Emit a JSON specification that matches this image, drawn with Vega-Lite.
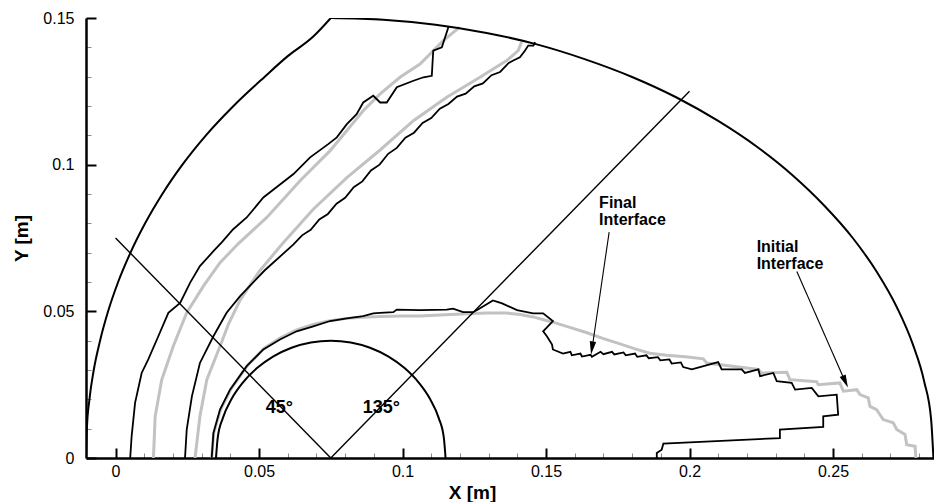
{
  "$schema": "https://vega.github.io/schema/vega-lite/v6.json",
  "width": 848,
  "height": 440,
  "autosize": {"type": "none"},
  "padding": {"left": 86, "top": 18, "right": 0, "bottom": 44},
  "config": {"view": {"stroke": null}, "font": "Liberation Sans"},
  "datasets": {
    "curves": [
      {"s":"O1","x":-0.0103,"y":0},{"s":"O1","x":-0.0100,"y":0.01},{"s":"O1","x":-0.0091,"y":0.02},{"s":"O1","x":-0.0076,"y":0.03},{"s":"O1","x":-0.0054,"y":0.04},{"s":"O1","x":-0.0026,"y":0.05},{"s":"O1","x":0.0009,"y":0.06},{"s":"O1","x":0.0052,"y":0.07},{"s":"O1","x":0.0103,"y":0.08},{"s":"O1","x":0.0163,"y":0.09},{"s":"O1","x":0.0233,"y":0.10},{"s":"O1","x":0.0315,"y":0.11},{"s":"O1","x":0.0411,"y":0.12},{"s":"O1","x":0.0520,"y":0.1300},{"s":"O1","x":0.0600,"y":0.1370},{"s":"O1","x":0.0688,"y":0.1436},{"s":"O1","x":0.0750,"y":0.1500},
      {"s":"O2","x":0.0750,"y":0.1500},{"s":"O2","x":0.0933,"y":0.1494},{"s":"O2","x":0.1115,"y":0.1477},{"s":"O2","x":0.1293,"y":0.1449},{"s":"O2","x":0.1468,"y":0.1410},{"s":"O2","x":0.1637,"y":0.1359},{"s":"O2","x":0.1800,"y":0.1299},{"s":"O2","x":0.1955,"y":0.1229},{"s":"O2","x":0.2100,"y":0.1149},{"s":"O2","x":0.2235,"y":0.1061},{"s":"O2","x":0.2359,"y":0.0964},{"s":"O2","x":0.2470,"y":0.0860},{"s":"O2","x":0.2569,"y":0.0750},{"s":"O2","x":0.2653,"y":0.0634},{"s":"O2","x":0.2723,"y":0.0513},{"s":"O2","x":0.2778,"y":0.0388},{"s":"O2","x":0.2818,"y":0.0260},{"s":"O2","x":0.2842,"y":0.0131},{"s":"O2","x":0.2850,"y":0},
      {"s":"K","x":0.0350,"y":0},{"s":"K","x":0.03561,"y":0.00695},{"s":"K","x":0.03741,"y":0.01368},{"s":"K","x":0.04036,"y":0.02},{"s":"K","x":0.04436,"y":0.02571},{"s":"K","x":0.04929,"y":0.03064},{"s":"K","x":0.055,"y":0.03464},{"s":"K","x":0.06132,"y":0.03759},{"s":"K","x":0.06805,"y":0.03939},{"s":"K","x":0.075,"y":0.04},{"s":"K","x":0.08195,"y":0.03939},{"s":"K","x":0.08868,"y":0.03759},{"s":"K","x":0.095,"y":0.03464},{"s":"K","x":0.10071,"y":0.03064},{"s":"K","x":0.10564,"y":0.02571},{"s":"K","x":0.10964,"y":0.02},{"s":"K","x":0.11259,"y":0.01368},{"s":"K","x":0.11439,"y":0.00695},{"s":"K","x":0.115,"y":0},
      {"s":"B","x":0.0132,"y":0},{"s":"B","x":0.0138,"y":0.0142},{"s":"B","x":0.0161,"y":0.0267},{"s":"B","x":0.0201,"y":0.0381},{"s":"B","x":0.0248,"y":0.0495},{"s":"B","x":0.0306,"y":0.0586},{"s":"B","x":0.0364,"y":0.0666},{"s":"B","x":0.0428,"y":0.0731},{"s":"B","x":0.0527,"y":0.0820},{"s":"B","x":0.0643,"y":0.0945},{"s":"B","x":0.0747,"y":0.1047},{"s":"B","x":0.0863,"y":0.1184},{"s":"B","x":0.0922,"y":0.1241},{"s":"B","x":0.0991,"y":0.1298},{"s":"B","x":0.1061,"y":0.1343},{"s":"B","x":0.1119,"y":0.1400},{"s":"B","x":0.1142,"y":0.1423},{"s":"B","x":0.1177,"y":0.1451},{"s":"B","x":0.1200,"y":0.1469},
      {"s":"D","x":0.0277,"y":0},{"s":"D","x":0.0294,"y":0.0142},{"s":"D","x":0.0318,"y":0.0267},{"s":"D","x":0.0364,"y":0.0381},{"s":"D","x":0.0395,"y":0.0460},{"s":"D","x":0.0435,"y":0.0540},{"s":"D","x":0.0500,"y":0.0635},{"s":"D","x":0.0579,"y":0.0728},{"s":"D","x":0.0689,"y":0.0848},{"s":"D","x":0.0806,"y":0.0956},{"s":"D","x":0.0922,"y":0.1050},{"s":"D","x":0.1038,"y":0.1150},{"s":"D","x":0.1154,"y":0.1230},{"s":"D","x":0.1270,"y":0.1298},{"s":"D","x":0.1363,"y":0.1355},{"s":"D","x":0.1403,"y":0.1389},{"s":"D","x":0.1415,"y":0.1418},
      {"s":"G","x":0.0335,"y":0},{"s":"G","x":0.0342,"y":0.0085},{"s":"G","x":0.0366,"y":0.0165},{"s":"G","x":0.0402,"y":0.0235},{"s":"G","x":0.0460,"y":0.0316},{"s":"G","x":0.0518,"y":0.0374},{"s":"G","x":0.0575,"y":0.0410},{"s":"G","x":0.0631,"y":0.0437},{"s":"G","x":0.0689,"y":0.0455},{"s":"G","x":0.0747,"y":0.0468},{"s":"G","x":0.0806,"y":0.0476},{"s":"G","x":0.0863,"y":0.0480},{"s":"G","x":0.0922,"y":0.0482},{"s":"G","x":0.1000,"y":0.0484},{"s":"G","x":0.1061,"y":0.0484},{"s":"G","x":0.1150,"y":0.0488},{"s":"G","x":0.1225,"y":0.0492},{"s":"G","x":0.1294,"y":0.0494},{"s":"G","x":0.1364,"y":0.0494},{"s":"G","x":0.1410,"y":0.0489},{"s":"G","x":0.1455,"y":0.0481},{"s":"G","x":0.1524,"y":0.0463},{"s":"G","x":0.1580,"y":0.0446},{"s":"G","x":0.1643,"y":0.0427},{"s":"G","x":0.1700,"y":0.0407},{"s":"G","x":0.1758,"y":0.0389},{"s":"G","x":0.1810,"y":0.0372},{"s":"G","x":0.1862,"y":0.0357},{"s":"G","x":0.1920,"y":0.0350},{"s":"G","x":0.1985,"y":0.0345},{"s":"G","x":0.2048,"y":0.0338},{"s":"G","x":0.2060,"y":0.0324},{"s":"G","x":0.2240,"y":0.0302},{"s":"G","x":0.2251,"y":0.0290},{"s":"G","x":0.2339,"y":0.0292},{"s":"G","x":0.2350,"y":0.0267},{"s":"G","x":0.2443,"y":0.0260},{"s":"G","x":0.2449,"y":0.0250},{"s":"G","x":0.2524,"y":0.0256},{"s":"G","x":0.2536,"y":0.0228},{"s":"G","x":0.2583,"y":0.0233},{"s":"G","x":0.2594,"y":0.0216},{"s":"G","x":0.2623,"y":0.0205},{"s":"G","x":0.2629,"y":0.0176},{"s":"G","x":0.2652,"y":0.0165},{"s":"G","x":0.2675,"y":0.0131},{"s":"G","x":0.2710,"y":0.0120},{"s":"G","x":0.2722,"y":0.0097},{"s":"G","x":0.2751,"y":0.0080},{"s":"G","x":0.2757,"y":0.0045},{"s":"G","x":0.2786,"y":0.0040},{"s":"G","x":0.2789,"y":0},
      {"s":"A","x":0.0051,"y":0},{"s":"A","x":0.0056,"y":0.0074},{"s":"A","x":0.0068,"y":0.0188},{"s":"A","x":0.0091,"y":0.0290},{"s":"A","x":0.0114,"y":0.0336},{"s":"A","x":0.0149,"y":0.0415},{"s":"A","x":0.0184,"y":0.0495},{"s":"A","x":0.0225,"y":0.0529},{"s":"A","x":0.0260,"y":0.0598},{"s":"A","x":0.0294,"y":0.0654},{"s":"A","x":0.0341,"y":0.0705},{"s":"A","x":0.0370,"y":0.0735},{"s":"A","x":0.0410,"y":0.0780},{"s":"A","x":0.0457,"y":0.0820},{"s":"A","x":0.0515,"y":0.0888},{"s":"A","x":0.0620,"y":0.0968},{"s":"A","x":0.0678,"y":0.1025},{"s":"A","x":0.0741,"y":0.1070},{"s":"A","x":0.0771,"y":0.1093},{"s":"A","x":0.0806,"y":0.1138},{"s":"A","x":0.0840,"y":0.1172},{"s":"A","x":0.0863,"y":0.1212},{"s":"A","x":0.0898,"y":0.1235},{"s":"A","x":0.0922,"y":0.1212},{"s":"A","x":0.0945,"y":0.1212},{"s":"A","x":0.0980,"y":0.1264},{"s":"A","x":0.1038,"y":0.1286},{"s":"A","x":0.1073,"y":0.1298},{"s":"A","x":0.1102,"y":0.1303},{"s":"A","x":0.1107,"y":0.1389},{"s":"A","x":0.1137,"y":0.1400},{"s":"A","x":0.1160,"y":0.1469},
      {"s":"C","x":0.0242,"y":0},{"s":"C","x":0.0248,"y":0.0097},{"s":"C","x":0.0266,"y":0.0210},{"s":"C","x":0.0294,"y":0.0324},{"s":"C","x":0.0341,"y":0.0415},{"s":"C","x":0.0387,"y":0.0495},{"s":"C","x":0.0434,"y":0.0552},{"s":"C","x":0.0520,"y":0.0640},{"s":"C","x":0.0620,"y":0.0728},{"s":"C","x":0.065,"y":0.0759},{"s":"C","x":0.068,"y":0.0778},{"s":"C","x":0.071,"y":0.0813},{"s":"C","x":0.074,"y":0.0832},{"s":"C","x":0.077,"y":0.0867},{"s":"C","x":0.080,"y":0.0887},{"s":"C","x":0.083,"y":0.0923},{"s":"C","x":0.086,"y":0.0943},{"s":"C","x":0.089,"y":0.0980},{"s":"C","x":0.092,"y":0.1000},{"s":"C","x":0.095,"y":0.1037},{"s":"C","x":0.098,"y":0.1057},{"s":"C","x":0.101,"y":0.1092},{"s":"C","x":0.104,"y":0.1109},{"s":"C","x":0.107,"y":0.1142},{"s":"C","x":0.110,"y":0.1159},{"s":"C","x":0.113,"y":0.1191},{"s":"C","x":0.116,"y":0.1207},{"s":"C","x":0.119,"y":0.1232},{"s":"C","x":0.122,"y":0.1242},{"s":"C","x":0.125,"y":0.1267},{"s":"C","x":0.128,"y":0.1277},{"s":"C","x":0.131,"y":0.1305},{"s":"C","x":0.134,"y":0.1316},{"s":"C","x":0.137,"y":0.1347},{"s":"C","x":0.1386,"y":0.1355},{"s":"C","x":0.1409,"y":0.1366},{"s":"C","x":0.1427,"y":0.1389},{"s":"C","x":0.1438,"y":0.1406},{"s":"C","x":0.1456,"y":0.1406},{"s":"C","x":0.1462,"y":0.1418},
      {"s":"F","x":0.0335,"y":0},{"s":"F","x":0.0341,"y":0.0085},{"s":"F","x":0.0364,"y":0.0165},{"s":"F","x":0.0399,"y":0.0233},{"s":"F","x":0.0457,"y":0.0313},{"s":"F","x":0.0515,"y":0.0370},{"s":"F","x":0.0573,"y":0.0404},{"s":"F","x":0.0631,"y":0.0432},{"s":"F","x":0.0689,"y":0.0449},{"s":"F","x":0.0747,"y":0.0467},{"s":"F","x":0.0806,"y":0.0476},{"s":"F","x":0.0863,"y":0.0484},{"s":"F","x":0.0898,"y":0.0493},{"s":"F","x":0.0922,"y":0.0495},{"s":"F","x":0.0968,"y":0.0497},{"s":"F","x":0.0980,"y":0.0506},{"s":"F","x":0.1061,"y":0.0504},{"s":"F","x":0.1154,"y":0.0506},{"s":"F","x":0.1176,"y":0.0509},{"s":"F","x":0.1211,"y":0.0497},{"s":"F","x":0.1246,"y":0.0497},{"s":"F","x":0.1263,"y":0.0506},{"s":"F","x":0.1315,"y":0.0537},{"s":"F","x":0.1347,"y":0.0527},{"s":"F","x":0.1399,"y":0.0504},{"s":"F","x":0.1455,"y":0.0493},{"s":"F","x":0.1490,"y":0.0493},{"s":"F","x":0.1524,"y":0.0467},{"s":"F","x":0.1490,"y":0.0432},{"s":"F","x":0.1503,"y":0.0415},{"s":"F","x":0.1521,"y":0.0387},{"s":"F","x":0.1524,"y":0.0370},{"s":"F","x":0.1559,"y":0.0356},{"s":"F","x":0.1585,"y":0.0362},{"s":"F","x":0.1590,"y":0.0350},{"s":"F","x":0.1620,"y":0.0356},{"s":"F","x":0.1625,"y":0.0346},{"s":"F","x":0.1655,"y":0.0352},{"s":"F","x":0.1660,"y":0.0345},{"s":"F","x":0.1690,"y":0.0362},{"s":"F","x":0.1700,"y":0.0354},{"s":"F","x":0.1730,"y":0.0362},{"s":"F","x":0.1738,"y":0.0353},{"s":"F","x":0.1770,"y":0.0360},{"s":"F","x":0.1778,"y":0.0350},{"s":"F","x":0.1810,"y":0.0356},{"s":"F","x":0.1818,"y":0.0345},{"s":"F","x":0.1850,"y":0.0350},{"s":"F","x":0.1858,"y":0.0340},{"s":"F","x":0.1890,"y":0.0344},{"s":"F","x":0.1898,"y":0.0333},{"s":"F","x":0.1930,"y":0.0336},{"s":"F","x":0.1938,"y":0.0322},{"s":"F","x":0.1970,"y":0.0326},{"s":"F","x":0.1978,"y":0.0310},{"s":"F","x":0.2008,"y":0.0302},{"s":"F","x":0.2100,"y":0.0327},{"s":"F","x":0.2112,"y":0.0302},{"s":"F","x":0.2182,"y":0.0302},{"s":"F","x":0.2193,"y":0.0290},{"s":"F","x":0.2240,"y":0.0302},{"s":"F","x":0.2246,"y":0.0279},{"s":"F","x":0.2292,"y":0.0290},{"s":"F","x":0.2304,"y":0.0262},{"s":"F","x":0.2356,"y":0.0256},{"s":"F","x":0.2368,"y":0.0233},{"s":"F","x":0.2426,"y":0.0239},{"s":"F","x":0.2449,"y":0.0210},{"s":"F","x":0.2513,"y":0.0216},{"s":"F","x":0.2518,"y":0.0148},{"s":"F","x":0.2466,"y":0.0142},{"s":"F","x":0.2466,"y":0.0106},{"s":"F","x":0.2315,"y":0.0097},{"s":"F","x":0.2315,"y":0.0068},{"s":"F","x":0.1909,"y":0.0049},{"s":"F","x":0.1903,"y":0.0028},{"s":"F","x":0.1886,"y":0.0017},{"s":"F","x":0.1886,"y":0},
      {"s":"L45","x":0.075,"y":0},{"s":"L45","x":0.0,"y":0.075},
      {"s":"L135","x":0.075,"y":0},{"s":"L135","x":0.2,"y":0.125},
      {"s":"AF","x":0.1720,"y":0.0770},{"s":"AF","x":0.1660,"y":0.0370},
      {"s":"AI","x":0.2374,"y":0.0636},{"s":"AI","x":0.2545,"y":0.0255}
    ],
    "tips": [
      {"s":"AF","x":0.1657,"y":0.0353},
      {"s":"AI","x":0.2552,"y":0.0240}
    ],
    "angles": [
      {"t":"45°","x":0.0571,"y":0.0155},
      {"t":"135°","x":0.0926,"y":0.0155}
    ],
    "notes": [
      {"t":"Final\nInterface","x":0.1685,"y":0.0853},
      {"t":"Initial\nInterface","x":0.2234,"y":0.0701}
    ]
  },
  "encoding": {
    "x": {
      "field": "x", "type": "quantitative",
      "scale": {"domain": [-0.0103, 0.2852], "nice": false, "zero": false},
      "axis": {
        "title": "X [m]", "titleFont": "Liberation Sans", "titleFontSize": 19, "titleFontWeight": "bold", "titleColor": "black",
        "titleX": 386, "titleY": 40, "titleAlign": "center", "titleBaseline": "alphabetic",
        "values": [0,0.01,0.02,0.03,0.04,0.05,0.06,0.07,0.08,0.09,0.1,0.11,0.12,0.13,0.14,0.15,0.16,0.17,0.18,0.19,0.2,0.21,0.22,0.23,0.24,0.25,0.26,0.27,0.28],
        "labelExpr": "abs(datum.value*20-round(datum.value*20))<0.001 ? format(datum.value,'~g') : ''",
        "tickSize": {"condition": {"test": "abs(datum.value*20-round(datum.value*20))<0.001", "value": -10}, "value": -5},
        "tickWidth": {"condition": {"test": "abs(datum.value*20-round(datum.value*20))<0.001", "value": 2}, "value": 1},
        "tickColor": {"condition": {"test": "abs(datum.value*20-round(datum.value*20))<0.001", "value": "black"}, "value": "#888888"},
        "domainColor": "black", "domainWidth": 2.5,
        "labelFont": "Liberation Sans", "labelFontSize": 16, "labelColor": "black", "labelPadding": 15,
        "labelOverlap": false, "labelFlush": false, "grid": false
      }
    },
    "y": {
      "field": "y", "type": "quantitative",
      "scale": {"domain": [0, 0.15], "nice": false, "zero": false},
      "axis": {
        "title": "Y [m]", "titleFont": "Liberation Sans", "titleFontSize": 19, "titleFontWeight": "bold", "titleColor": "black",
        "titleX": -59, "titleY": 220, "titleAngle": 270, "titleAlign": "center", "titleBaseline": "alphabetic",
        "values": [0,0.01,0.02,0.03,0.04,0.05,0.06,0.07,0.08,0.09,0.1,0.11,0.12,0.13,0.14,0.15],
        "labelExpr": "abs(datum.value*20-round(datum.value*20))<0.001 ? format(datum.value,'~g') : ''",
        "tickSize": {"condition": {"test": "abs(datum.value*20-round(datum.value*20))<0.001", "value": -10}, "value": -5},
        "tickWidth": {"condition": {"test": "abs(datum.value*20-round(datum.value*20))<0.001", "value": 2}, "value": 1},
        "tickColor": {"condition": {"test": "abs(datum.value*20-round(datum.value*20))<0.001", "value": "black"}, "value": "#888888"},
        "domainColor": "black", "domainWidth": 2.5,
        "labelFont": "Liberation Sans", "labelFontSize": 16, "labelColor": "black", "labelPadding": 22,
        "labelOverlap": false, "labelFlush": false, "grid": false
      }
    }
  },
  "layer": [
    {
      "data": {"name": "curves"},
      "transform": [{"filter": "indexof(['B','D','G'], datum.s) >= 0"}],
      "mark": {"type": "line", "color": "#c2c2c2", "strokeWidth": 3, "strokeJoin": "miter", "clip": true},
      "encoding": {"detail": {"field": "s"}, "order": {"value": null}}
    },
    {
      "data": {"name": "curves"},
      "transform": [{"filter": "indexof(['O1','O2','K'], datum.s) >= 0"}],
      "mark": {"type": "line", "color": "black", "strokeWidth": 2, "interpolate": "monotone", "clip": true},
      "encoding": {"detail": {"field": "s"}, "order": {"value": null}}
    },
    {
      "data": {"name": "curves"},
      "transform": [{"filter": "indexof(['A','C','F'], datum.s) >= 0"}],
      "mark": {"type": "line", "color": "black", "strokeWidth": 1.8, "clip": true},
      "encoding": {"detail": {"field": "s"}, "order": {"value": null}}
    },
    {
      "data": {"name": "curves"},
      "transform": [{"filter": "indexof(['L45','L135'], datum.s) >= 0"}],
      "mark": {"type": "line", "color": "black", "strokeWidth": 1.4},
      "encoding": {"detail": {"field": "s"}, "order": {"value": null}}
    },
    {
      "data": {"name": "curves"},
      "transform": [{"filter": "indexof(['AF','AI'], datum.s) >= 0"}],
      "mark": {"type": "line", "color": "black", "strokeWidth": 1.1},
      "encoding": {"detail": {"field": "s"}, "order": {"value": null}}
    },
    {
      "data": {"name": "tips"},
      "transform": [{"filter": "datum.s == 'AF'"}],
      "mark": {"type": "point", "shape": "M0,0L-0.5,-2L0.5,-2Z", "filled": true, "color": "black", "opacity": 1, "size": 169, "angle": 8.4}
    },
    {
      "data": {"name": "tips"},
      "transform": [{"filter": "datum.s == 'AI'"}],
      "mark": {"type": "point", "shape": "M0,0L-0.5,-2L0.5,-2Z", "filled": true, "color": "black", "opacity": 1, "size": 169, "angle": -23.7}
    },
    {
      "data": {"name": "angles"},
      "mark": {"type": "text", "font": "Liberation Sans", "fontSize": 18, "fontWeight": "bold", "color": "black", "align": "center", "baseline": "alphabetic"},
      "encoding": {"text": {"field": "t"}}
    },
    {
      "data": {"name": "notes"},
      "mark": {"type": "text", "font": "Liberation Sans", "fontSize": 16, "fontWeight": "bold", "color": "black", "align": "left", "baseline": "alphabetic", "lineBreak": "\n", "lineHeight": 17},
      "encoding": {"text": {"field": "t"}}
    }
  ]
}
